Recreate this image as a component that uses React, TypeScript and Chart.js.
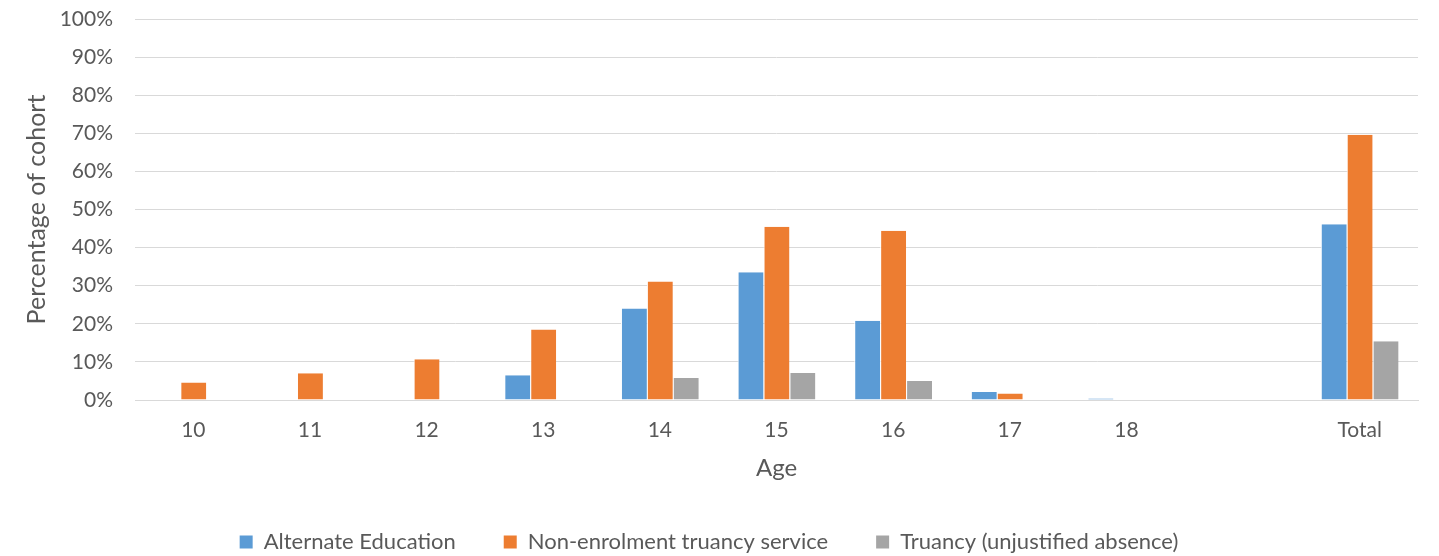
import React, { useEffect, useRef } from "react";
import { Chart, registerables } from "chart.js";

Chart.register(...registerables);

const categories = ["10", "11", "12", "13", "14", "15", "16", "17", "18", "", "Total"];
const alternateEducation = [0, 0, 0, 6.5, 24.0, 33.5, 20.8, 2.1, 0.4, null, 46.1];
const nonEnrolment = [4.6, 7.0, 10.7, 18.5, 31.1, 45.5, 44.4, 1.7, 0, null, 69.6];
const truancy = [0, 0, 0, 0, 5.8, 7.1, 5.0, 0, 0, null, 15.4];
const yTicks = [0, 10, 20, 30, 40, 50, 60, 70, 80, 90, 100];

const FONT = "Lato, 'Open Sans', sans-serif";
const TEXT = "#595959";

export default function App() {
  const ref = useRef<HTMLCanvasElement | null>(null);
  useEffect(() => {
    document.body.style.margin = "0";
    const chart = new Chart(ref.current!, {
      type: "bar",
      data: {
        labels: categories,
        datasets: [
          { label: "Alternate Education", data: alternateEducation, backgroundColor: "#5b9bd5", borderColor: "#ffffff", borderWidth: { left: 1, right: 0, top: 0, bottom: 0 } as any },
          { label: "Non-enrolment truancy service", data: nonEnrolment, backgroundColor: "#ed7d31", borderColor: "#ffffff", borderWidth: { left: 1, right: 0, top: 0, bottom: 0 } as any },
          { label: "Truancy (unjustified absence)", data: truancy, backgroundColor: "#a5a5a5", borderColor: "#ffffff", borderWidth: { left: 1, right: 0, top: 0, bottom: 0 } as any },
        ],
      },
      options: {
        animation: false,
        responsive: false,
        maintainAspectRatio: false,
        layout: { padding: { top: 0, right: 21, bottom: -7, left: 0 } },
        datasets: { bar: { categoryPercentage: 0.667, barPercentage: 1 } },
        plugins: {
          tooltip: { enabled: false },
          legend: {
            position: "bottom",
            labels: {
              color: TEXT,
              font: { family: FONT, size: 22 },
              boxWidth: 13,
              boxHeight: 13,
              padding: 48,
              useBorderRadius: false,
              generateLabels: (c: any) =>
                c.data.datasets.map((d: any, i: number) => ({
                  text: d.label,
                  fillStyle: d.backgroundColor,
                  strokeStyle: d.backgroundColor,
                  lineWidth: 0,
                  fontColor: TEXT,
                  datasetIndex: i,
                  hidden: false,
                })),
            },
          },
        },
        scales: {
          x: {
            grid: { display: false, drawTicks: false },
            border: { display: true, color: "#d9d9d9", width: 1 },
            ticks: { color: TEXT, font: { family: FONT, size: 21 }, padding: 18 },
            title: { display: true, text: "Age", color: TEXT, font: { family: FONT, size: 24 }, padding: { top: 11, bottom: 0 } },
            afterFit: (s: any) => {
              s.height = 83;
            },
          },
          y: {
            min: 0,
            max: 100,
            afterBuildTicks: (s: any) => {
              s.ticks = yTicks.map((v) => ({ value: v }));
            },
            afterFit: (s: any) => {
              s.width = 135;
              s.paddingTop = 19;
              s.paddingBottom = 0;
            },
            grid: { color: "#d9d9d9", lineWidth: 1, drawTicks: false },
            border: { display: false },
            ticks: {
              color: TEXT,
              font: { family: FONT, size: 21 },
              padding: 22,
              callback: (v: any) => v + "%",
            },
            title: { display: true, text: "Percentage of cohort", color: TEXT, font: { family: FONT, size: 25 }, padding: { top: 22, bottom: 0 } },
          },
        },
      },
    });
    return () => chart.destroy();
  }, []);
  return (
    <div style={{ width: 1439, height: 556, background: "#fff" }}>
      <canvas ref={ref} width={1439} height={556} style={{ display: "block" }} />
    </div>
  );
}
